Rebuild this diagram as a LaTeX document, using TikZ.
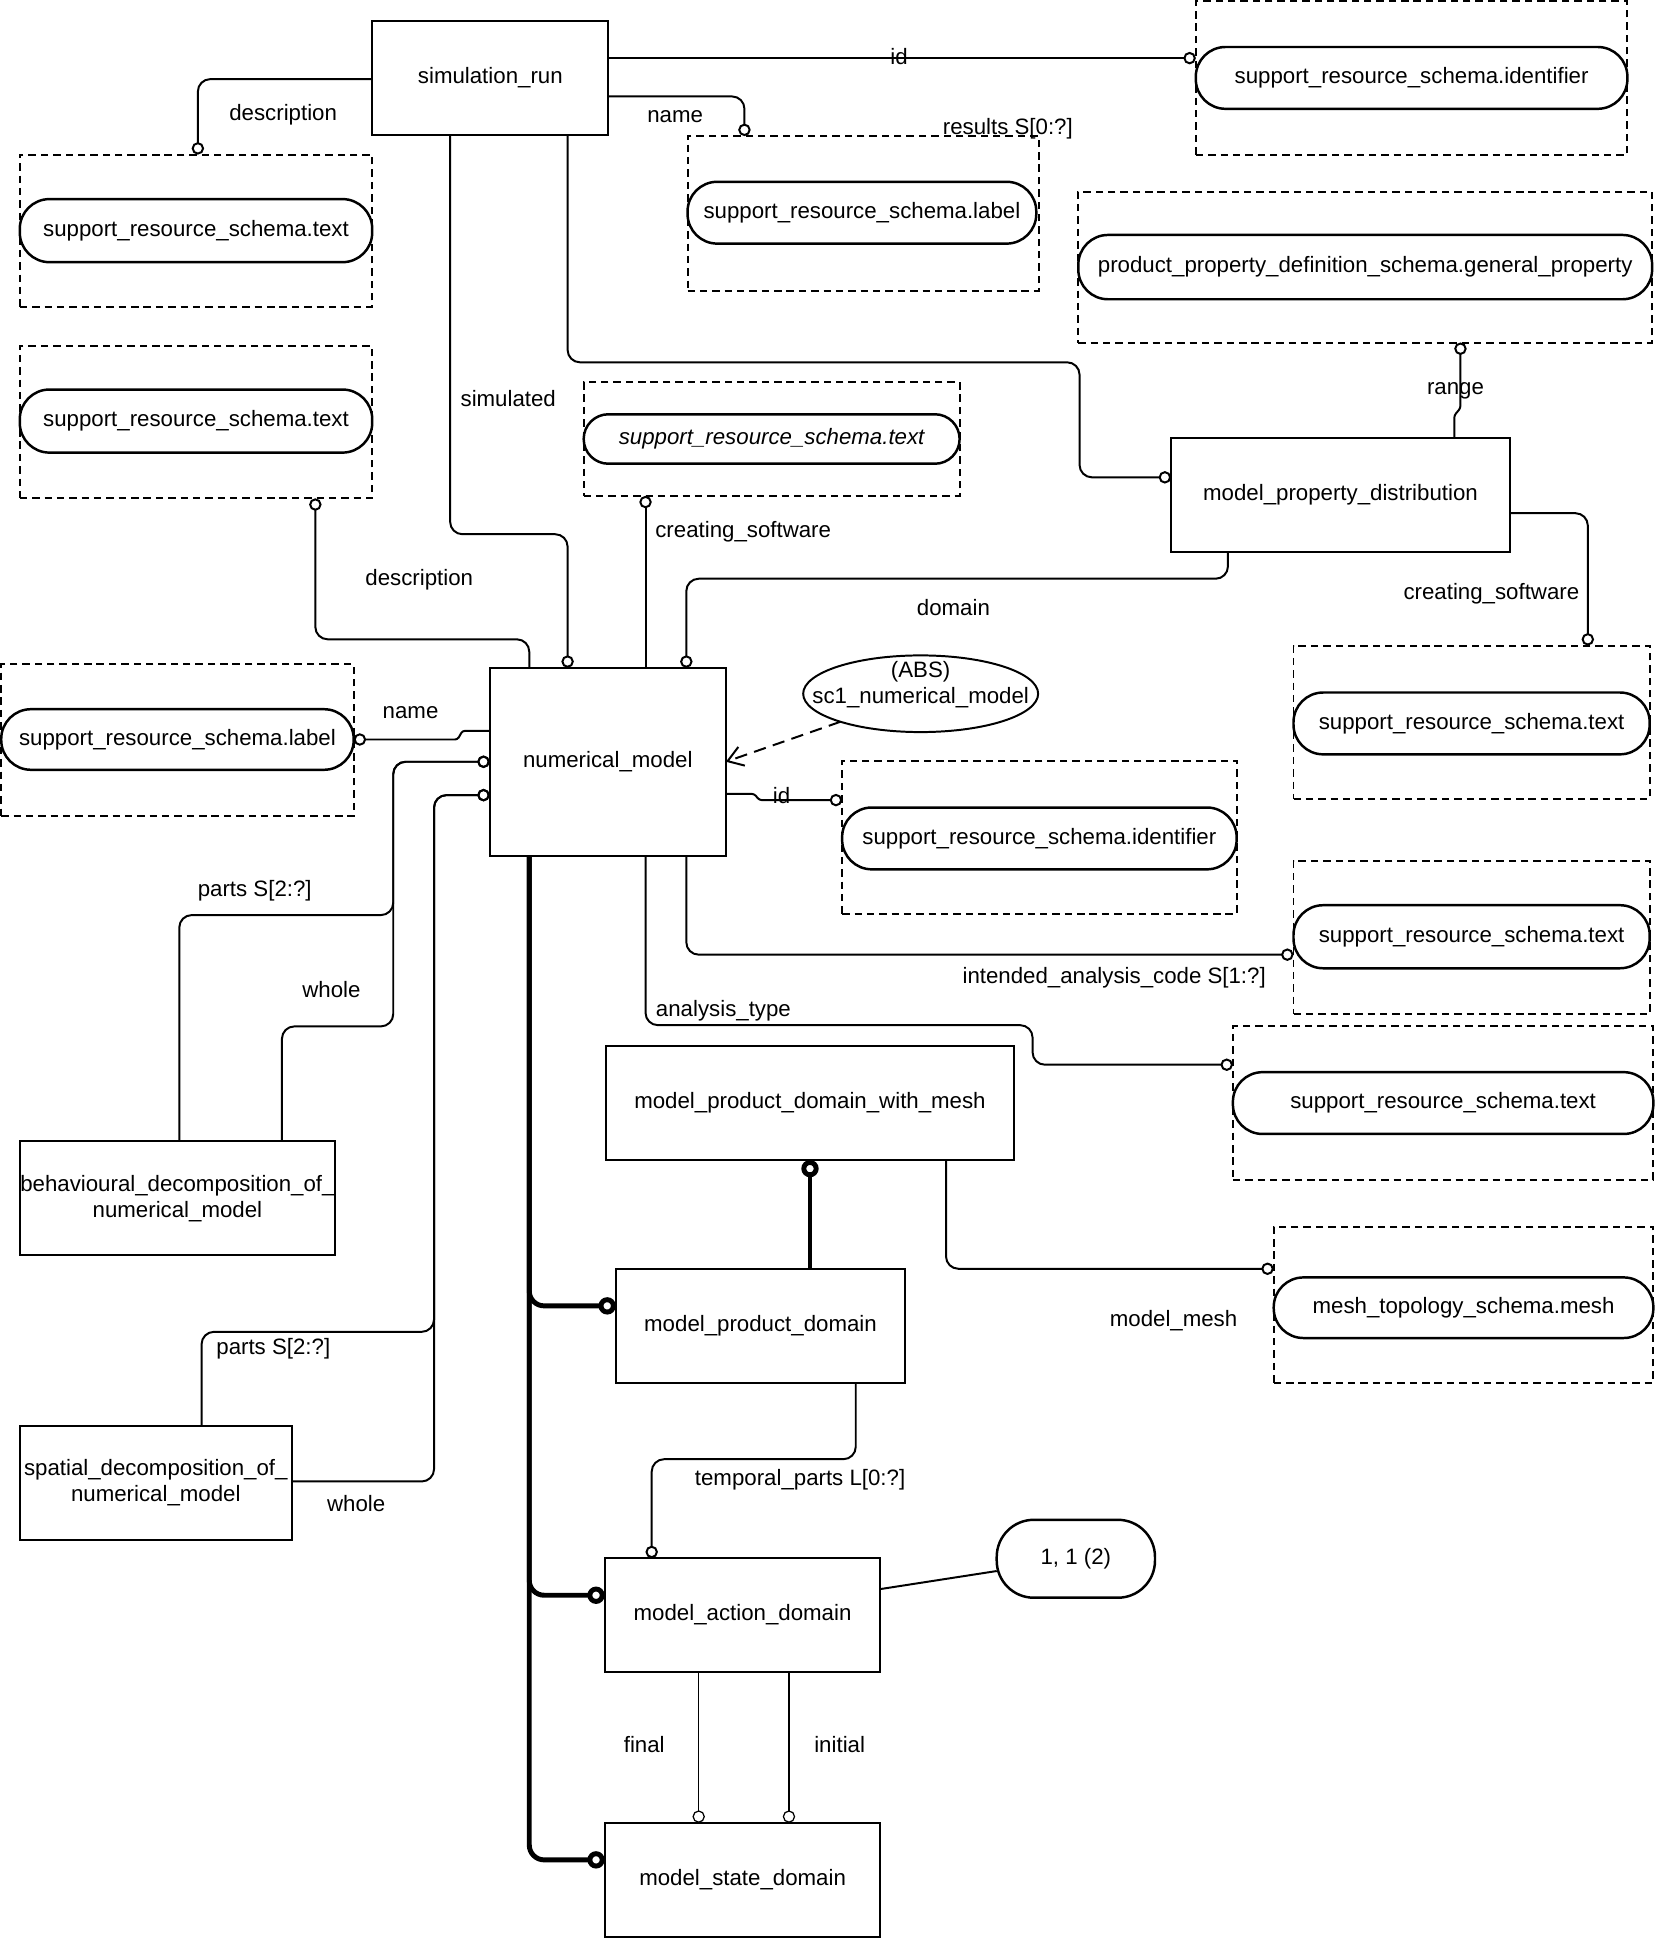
\documentclass[tikz,border=0pt]{standalone}
\usepackage{fontspec}
\setmainfont{Liberation Sans}
\usetikzlibrary{arrows.meta,shapes.geometric}
\begin{document}
\begin{tikzpicture}[x=0.5pt,y=-0.5pt,
  every node/.style={font=\fontsize{9}{10.5}\selectfont, inner sep=0pt, outer sep=0pt},
  ent/.style={draw, line width=0.8pt, rectangle, align=center},
  dbox/.style={draw, line width=0.8pt, dash pattern=on 3pt off 2pt},
  pill/.style={draw, line width=1pt, rounded corners=12pt},
  attr/.style={line width=0.8pt, rounded corners=5pt, -{Circle[open,length=5pt]}},
  thinattr/.style={line width=0.5pt, -{Circle[open,length=5pt]}},
  subt/.style={line width=2pt, rounded corners=6pt, -{Circle[open,length=7pt]}},
  lbl/.style={}]
\useasboundingbox (0,0) rectangle (1338,1568);

% ---------- entities ----------
\node[ent, minimum width=95.5pt, minimum height=46pt] (sr) at (396.5,63) {simulation\_run};
\node[ent, minimum width=95.5pt, minimum height=76pt] (nm) at (491.5,616) {numerical\_model};
\node[ent, minimum width=137pt, minimum height=46pt] (mpd) at (1084,400) {model\_property\_distribution};
\node[ent, minimum width=165pt, minimum height=46pt] (mpdwm) at (655,892) {model\_product\_domain\_with\_mesh};
\node[ent, minimum width=117pt, minimum height=46pt] (mpdom) at (615,1072) {model\_product\_domain};
\node[ent, minimum width=111.5pt, minimum height=46pt] (mad) at (600.5,1306) {model\_action\_domain};
\node[ent, minimum width=111.5pt, minimum height=46pt] (msd) at (600.5,1520) {model\_state\_domain};
\node[ent, minimum width=127.5pt, minimum height=46pt, text width=127.5pt] (bdnm) at (143.5,969) {behavioural\_decomposition\_of\_\\numerical\_model};
\node[ent, minimum width=110pt, minimum height=46pt, text width=110pt] (sdnm) at (126,1199) {spatial\_decomposition\_of\_\\numerical\_model};

% ---------- defined type references (dashed boxes with pills) ----------
\node[dbox, minimum width=142.5pt, minimum height=61.5pt] (dA) at (158.5,186.5) {};
\node[pill, minimum width=142.5pt, minimum height=25.5pt] (pA) at (158.5,186.5) {support\_resource\_schema.text};

\node[dbox, minimum width=142.5pt, minimum height=61.5pt] (dB) at (158.5,341.5) {};
\node[pill, minimum width=142.5pt, minimum height=25.5pt] (pB) at (158.5,340.5) {support\_resource\_schema.text};

\node[dbox, minimum width=142pt, minimum height=62.5pt] (dC) at (698,172.5) {};
\node[pill, minimum width=141pt, minimum height=25pt] (pC) at (697,172) {support\_resource\_schema.label};

\node[dbox, minimum width=174.5pt, minimum height=62pt] (dD) at (1141.5,63) {};
\node[pill, minimum width=174.5pt, minimum height=25pt] (pD) at (1141.5,63) {support\_resource\_schema.identifier};

\node[dbox, minimum width=232pt, minimum height=61pt] (dE) at (1104,216) {};
\node[pill, minimum width=232pt, minimum height=26pt] (pE) at (1104,216) {product\_property\_definition\_schema.general\_property};

\node[dbox, minimum width=152pt, minimum height=46pt] (dF) at (624,355) {};
\node[pill, rounded corners=10pt, minimum width=152pt, minimum height=20pt] (pF) at (624,355) {\itshape support\_resource\_schema.text};

\node[dbox, minimum width=142.5pt, minimum height=61.5pt] (dG) at (143.5,598.5) {};
\node[pill, minimum width=142.5pt, minimum height=24.5pt] (pG) at (143.5,598) {support\_resource\_schema.label};

\node[dbox, minimum width=159.5pt, minimum height=62pt] (dH) at (840.5,677) {};
\node[pill, minimum width=159.5pt, minimum height=25pt] (pH) at (840.5,678) {support\_resource\_schema.identifier};

\node[dbox, minimum width=144pt, minimum height=62pt] (dI) at (1190,584) {};
\node[pill, minimum width=144pt, minimum height=25pt] (pI) at (1190,585) {support\_resource\_schema.text};

\node[dbox, minimum width=144pt, minimum height=62pt] (dJ) at (1190,758) {};
\node[pill, minimum width=144pt, minimum height=25.5pt] (pJ) at (1190,757.5) {support\_resource\_schema.text};

\node[dbox, minimum width=170pt, minimum height=62pt] (dK) at (1167,892) {};
\node[pill, minimum width=170pt, minimum height=25pt] (pK) at (1167,892) {support\_resource\_schema.text};

\node[dbox, minimum width=153.5pt, minimum height=63pt] (dL) at (1183.5,1055) {};
\node[pill, minimum width=153.5pt, minimum height=24.5pt] (pL) at (1183.5,1057.5) {mesh\_topology\_schema.mesh};

% ---------- other symbols ----------
\node[pill, rounded corners=15pt, minimum width=64pt, minimum height=31.5pt] (p11) at (870,1260.5) {1, 1 (2)};
\node[ellipse, draw, line width=0.8pt, minimum width=95pt, minimum height=31pt] (ell) at (744.5,561) {};
\node[align=center] (elltxt) at (744.5,554) {(ABS)\\sc1\_numerical\_model};

% ---------- attribute connectors ----------
\draw[attr] (sr.east |- 0,47) -- (dD.west |- 0,47);
\draw[attr] (sr.east |- 0,78) -- (602,78) -- (dC.north -| 602,0);
\draw[attr] (sr.west |- 0,64) -- (160,64) -- (dA.north -| 160,0);
\draw[attr] (sr.south -| 364,0) -- (364,432) -- (459,432) -- (nm.north -| 459,0);
\draw[attr] (sr.south -| 459,0) -- (459,293) -- (873,293) -- (873,386) -- (mpd.west |- 0,386);
\draw[attr, rounded corners=1pt] (mpd.north -| 1176,0) -- (1176,336) -- (1181,330) -- (dE.south -| 1181,0);
\draw[attr] (mpd.east |- 0,415) -- (1284,415) -- (dI.north -| 1284,0);
\draw[attr] (mpd.south -| 993,0) -- (993,468) -- (555,468) -- (nm.north -| 555,0);
\draw[attr] (nm.north -| 522,0) -- (dF.south -| 522,0);
\draw[attr] (nm.north -| 428,0) -- (428,517) -- (255,517) -- (dB.south -| 255,0);
\draw[attr, rounded corners=1pt] (nm.west |- 0,591) -- (374,591) -- (370,598) -- (dG.east |- 0,598);
\draw[attr] (bdnm.north -| 145,0) -- (145,740) -- (318,740) -- (318,616) -- (nm.west |- 0,616);
\draw[attr] (bdnm.north -| 228,0) -- (228,830) -- (318,830) -- (318,616) -- (nm.west |- 0,616);
\draw[attr] (sdnm.north -| 163,0) -- (163,1077) -- (351,1077) -- (351,643) -- (nm.west |- 0,643);
\draw[attr] (sdnm.east |- 0,1198) -- (351,1198) -- (351,643) -- (nm.west |- 0,643);
\draw[attr] (nm.south -| 555,0) -- (555,772) -- (dJ.west |- 0,772);
\draw[attr] (nm.south -| 522,0) -- (522,829) -- (835,829) -- (835,861) -- (dK.west |- 0,861);
\draw[attr, rounded corners=1pt] (nm.east |- 0,642) -- (610,642) -- (614,647) -- (dH.west |- 0,647);
\draw[attr] (mpdwm.south -| 765,0) -- (765,1026) -- (dL.west |- 0,1026);
\draw[attr] (mpdom.south -| 692,0) -- (692,1180) -- (527,1180) -- (mad.north -| 527,0);
\draw[thinattr] (mad.south -| 565,0) -- (msd.north -| 565,0);
\draw[thinattr] (mad.south -| 638,0) -- (msd.north -| 638,0);
\draw[line width=0.8pt] (mad.east |- 0,1285) -- (p11);

% ---------- subtype (thick) connectors ----------
\draw[subt] (nm.south -| 428,0) -- (428,1056) -- (mpdom.west |- 0,1056);
\draw[subt] (nm.south -| 428,0) -- (428,1290) -- (mad.west |- 0,1290);
\draw[subt] (nm.south -| 428,0) -- (428,1504) -- (msd.west |- 0,1504);
\draw[subt] (mpdom.north -| 655,0) -- (mpdwm.south -| 655,0);

% ---------- dashed complex-entity reference ----------
\draw[line width=0.8pt, dash pattern=on 5pt off 3pt, -{Straight Barb[length=6pt,width=8pt]}] (ell) -- (nm.east |- 0,616);

% ---------- labels ----------
\node[lbl] (l1) at (229,93) {description};
\node[lbl] (l2) at (546,94) {name};
\node[lbl] (l3) at (727,46) {id};
\node[lbl] (l4) at (815,104) {results S[0:?]};
\node[lbl] (l5) at (411,322) {simulated};
\node[lbl] (l6) at (1177,316) {range};
\node[lbl] (l7) at (601,430) {creating\_software};
\node[lbl] (l8) at (339,469) {description};
\node[lbl] (l9) at (1206,480) {creating\_software};
\node[lbl] (l10) at (771,491) {domain};
\node[lbl] (l11) at (332,576) {name};
\node[lbl] (l12) at (632,643) {id};
\node[lbl] (l13) at (206,720) {parts S[2:?]};
\node[lbl] (l14) at (268,800) {whole};
\node[lbl] (l15) at (901,791) {intended\_analysis\_code S[1:?]};
\node[lbl] (l16) at (585,817) {analysis\_type};
\node[lbl] (l17) at (949,1068) {model\_mesh};
\node[lbl] (l18) at (221,1091) {parts S[2:?]};
\node[lbl] (l19) at (288,1216) {whole};
\node[lbl] (l20) at (647,1197) {temporal\_parts L[0:?]};
\node[lbl] (l21) at (521,1411) {final};
\node[lbl] (l22) at (679,1411) {initial};
\end{tikzpicture}
\end{document}
